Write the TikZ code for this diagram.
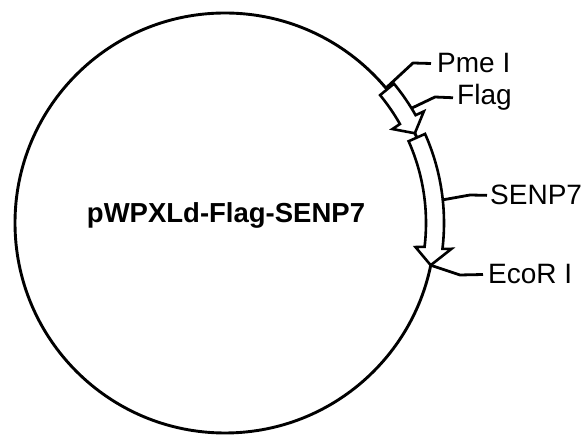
\documentclass[tikz,border=0pt]{standalone}
\usepackage{fontspec}
\setmainfont{Liberation Sans}
\begin{document}
\begin{tikzpicture}[x=1pt,y=1pt,
  ring/.style={line width=2.9pt},
  arrowbox/.style={line width=2.6pt, fill=white, line join=miter},
  leader/.style={line width=2.8pt, line join=round},
  lbl/.style={inner sep=0pt, anchor=base west, font=\fontsize{28}{33}\selectfont},
  ttl/.style={inner sep=0pt, anchor=base, font=\fontsize{27.5}{33}\selectfont\bfseries}]
\useasboundingbox (0,0) rectangle (582,436);
\coordinate (c) at (225,213);
\draw[ring] (c) circle[radius=210];
\begin{scope}[shift={(225,213)}]
  % Flag arrow
  \draw[arrowbox] (39.5:201) arc[start angle=39.5, end angle=29.5, radius=201]
    -- (29.3:192) -- (25.3:210) -- (29.3:228) -- (29.5:219)
    arc[start angle=29.5, end angle=39.5, radius=219] -- cycle;
  % SENP7 arrow
  \draw[arrowbox] (24:201) arc[start angle=24, end angle=-6.8, radius=201]
    -- (-7.2:192) -- (-11.6:210) -- (-6.5:228) -- (-6.8:219)
    arc[start angle=-6.8, end angle=24, radius=219] -- cycle;
\end{scope}
\node[ttl] (title) at (226,213) {pWPXLd-Flag-SENP7};
\node[lbl] (pme) at (437,363) {Pme I};
\node[lbl] (flag) at (457,331) {Flag};
\node[lbl] (senp) at (490,231) {SENP7};
\node[lbl] (eco) at (488,152) {EcoR I};
\coordinate (pmeA) at (386,348);
\coordinate (pmeB) at (413,373);
\coordinate (flagA) at (412,328);
\coordinate (flagB) at (435,339);
\coordinate (senpA) at (442,236);
\coordinate (senpB) at (470,241);
\coordinate (ecoA) at (430,171);
\coordinate (ecoB) at (460,161);
\draw[leader] (pmeA) -- (pmeB) -- ([xshift=-6pt]pme.west);
\draw[leader] (flagA) -- (flagB) -- ([xshift=-4pt]flag.west);
\draw[leader] (senpA) -- (senpB) -- ([xshift=-3pt]senp.west);
\draw[leader] (ecoA) -- (ecoB) -- ([xshift=-5pt]eco.west);
\end{tikzpicture}
\end{document}
